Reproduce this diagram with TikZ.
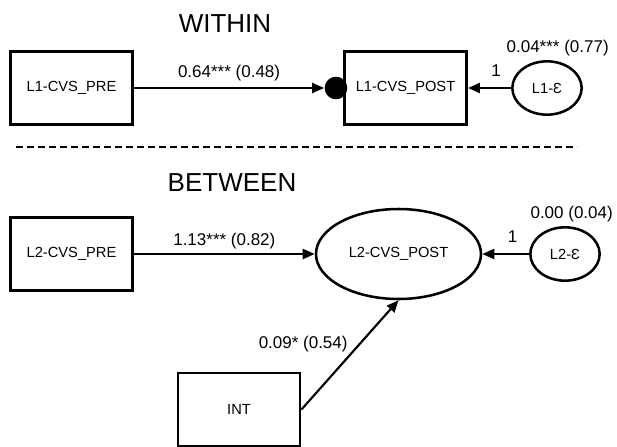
\documentclass[tikz,border=0pt]{standalone}
\usepackage{fontspec}
\setmainfont{Liberation Sans}
\usetikzlibrary{arrows.meta,positioning,shapes.geometric}

\tikzset{every picture/.style={line width=0.75pt}}
\tikzset{
  varbox/.style={draw, line width=2.2pt, minimum width=91.5pt, minimum height=54.75pt, inner sep=0pt, font=\fontsize{11}{13}\selectfont},
  latent/.style={draw, ellipse, line width=1.9pt, minimum width=123.75pt, minimum height=67.5pt, inner sep=0pt, font=\fontsize{11}{13}\selectfont},
  errvar/.style={draw, ellipse, line width=1.9pt, minimum width=52pt, minimum height=40pt, inner sep=0pt, font=\fontsize{11}{13}\selectfont},
  meandot/.style={circle, fill=black, inner sep=0pt, minimum size=17pt},
  regpath/.style={-{Triangle[length=9pt,width=7.5pt]}, line width=1.6pt},
  coef/.style={font=\fontsize{12.75}{15}\selectfont, inner sep=1pt},
  level/.style={font=\fontsize{19.5}{22}\selectfont, inner sep=0pt},
  divider/.style={line width=2pt, dash pattern=on 5.25pt off 3pt}
}

\begin{document}
\begin{tikzpicture}[x=0.75pt,y=0.75pt,yscale=-1,xscale=1]
\path[use as bounding box] (0,0) rectangle (617,446);

% Text Node
\node[level] (within) at (225,24) {WITHIN};
%Shape: Rectangle
\node[varbox] (pre1) at (71.5,88) {L1-CVS\_PRE};
%Shape: Rectangle
\node[varbox] (post1) at (405.5,88) {L1-CVS\_POST};
%Shape: Ellipse
\node[errvar] (eps1) at (547,88) {L1-Ɛ};
%Shape: Circle
\node[meandot] (dot1) at (336,88) {};
\node[coef, above=2pt of eps1, xshift=8pt] (var1) {0.04*** (0.77)};

\draw[regpath] (pre1) -- node[coef, above=3.75pt] {0.64*** (0.48)} (dot1);
\draw[regpath] (eps1) -- node[coef, above=7pt, pos=0.35] {1} (post1);

%Straight Lines
\draw[divider] (16,147) -- (577,147);

% Text Node
\node[level] (between) at (232,183) {BETWEEN};
%Shape: Rectangle
\node[varbox] (pre2) at (71.5,254) {L2-CVS\_PRE};
%Shape: Ellipse
\node[latent] (post2) at (398.5,254) {L2-CVS\_POST};
%Shape: Ellipse
\node[errvar] (eps2) at (565,254) {L2-Ɛ};
\node[coef, above=2pt of eps2, xshift=5pt] (var2) {0.00 (0.04)};
%Shape: Rectangle
\node[varbox] (int) at (239,409.5) {INT};

\draw[regpath] (pre2) -- node[coef, above=2.25pt] {1.13*** (0.82)} (post2);
\draw[regpath] (eps2) -- node[coef, above=7pt, pos=0.35] {1} (post2);
\draw[regpath] (int.east) -- node[coef, above left, pos=0.5] {0.09* (0.54)} (post2.south);

\end{tikzpicture}
\end{document}
